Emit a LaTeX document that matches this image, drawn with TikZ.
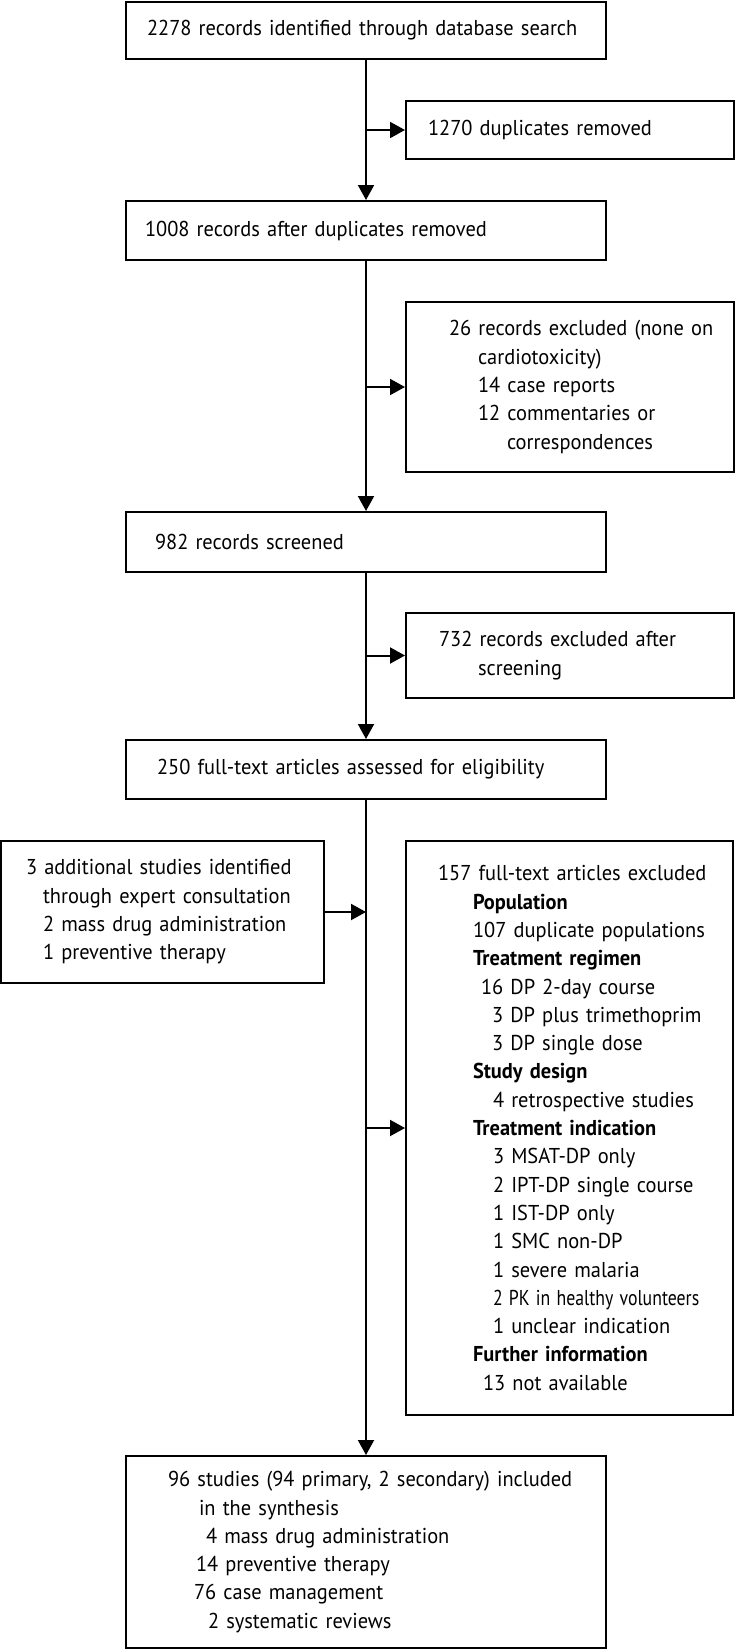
\documentclass[tikz,border=0pt]{standalone}
\usepackage{fontspec}
\setmainfont{PT Sans}[FakeStretch=0.95]
\usepackage{graphicx}
\usepackage{tikz}
\usetikzlibrary{arrows.meta}

\begin{document}
\begin{tikzpicture}[x=1pt, y=-1pt,
  box/.style={draw, line width=2pt, inner xsep=0pt, inner ysep=0pt, align=left,
    font=\fontsize{21.5}{28.3}\selectfont},
  arr/.style={line width=2pt, -{Triangle[length=15pt,width=16pt]}}]
\useasboundingbox (0,0) rectangle (736,1650);
\node[box, text width=480, minimum height=57] (ident) at (366,30.5)
  {\hspace*{21pt}2278 records identified through database search};
\node[box, text width=328, minimum height=58] (dupl) at (570,130)
  {\hspace*{22pt}1270 duplicates removed};
\node[box, text width=480, minimum height=59] (after) at (366,230.5)
  {\hspace*{19pt}1008 records after duplicates removed};
\node[box, text width=328, minimum height=170] (cardio) at (570,387)
  {\hspace*{43pt}26 records excluded (none on\\
   \hspace*{72pt}cardiotoxicity)\\
   \hspace*{72pt}14 case reports\\
   \hspace*{72pt}12 commentaries or\\
   \hspace*{101pt}correspondences};
\node[box, text width=480, minimum height=60] (screen) at (366,542)
  {\hspace*{29pt}982 records screened};
\node[box, text width=328, minimum height=85] (excscr) at (570,655.5)
  {\hspace*{33pt}732 records excluded after\\
   \hspace*{72pt}screening};
\node[box, text width=480, minimum height=59] (elig) at (366,769.5)
  {\hspace*{31pt}250 full-text articles assessed for eligibility};
\node[box, text width=323, minimum height=142] (extra) at (162.5,912)
  {\hspace*{25pt}3 additional studies identified\\
   \hspace*{42pt}through expert consultation\\
   \hspace*{42pt}2 mass drug administration\\
   \hspace*{42pt}1 preventive therapy};
\node[box, text width=327, minimum height=574] (fulltext) at (569.5,1128)
  {\hspace*{32pt}157 full-text articles excluded\\
   \hspace*{67pt}\textbf{Population}\\
   \hspace*{67pt}107 duplicate populations\\
   \hspace*{67pt}\textbf{Treatment regimen}\\
   \hspace*{75pt}16 DP 2-day course\\
   \hspace*{86pt}3 DP plus trimethoprim\\
   \hspace*{86pt}3 DP single dose\\
   \hspace*{67pt}\textbf{Study design}\\
   \hspace*{87pt}4 retrospective studies\\
   \hspace*{67pt}\textbf{Treatment indication}\\
   \hspace*{87pt}3 MSAT-DP only\\
   \hspace*{87pt}2 IPT-DP single course\\
   \hspace*{87pt}1 IST-DP only\\
   \hspace*{87pt}1 SMC non-DP\\
   \hspace*{87pt}1 severe malaria\\
   \hspace*{87pt}\scalebox{0.87}[1]{2 PK in healthy volunteers}\\
   \hspace*{87pt}1 unclear indication\\
   \hspace*{67pt}\textbf{Further information}\\
   \hspace*{77pt}13 not available};
\node[box, text width=480, minimum height=192] (synth) at (366,1552)
  {\hspace*{42pt}96 studies (94 primary, 2 secondary) included\\
   \hspace*{73pt}in the synthesis\\
   \hspace*{80pt}4 mass drug administration\\
   \hspace*{70pt}14 preventive therapy\\
   \hspace*{68pt}76 case management\\
   \hspace*{82pt}2 systematic reviews};
\draw[arr] (ident.south) -- (after.north);
\draw[arr] (ident.south |- dupl.west) -- (dupl.west);
\draw[arr] (after.south) -- (screen.north);
\draw[arr] (after.south |- cardio.west) -- (cardio.west);
\draw[arr] (screen.south) -- (elig.north);
\draw[arr] (screen.south |- excscr.west) -- (excscr.west);
\draw[arr] (elig.south) -- (synth.north);
\draw[arr] (elig.south |- fulltext.west) -- (fulltext.west);
\draw[arr] (extra.east) -- (extra.east -| elig.south);
\end{tikzpicture}
\end{document}
